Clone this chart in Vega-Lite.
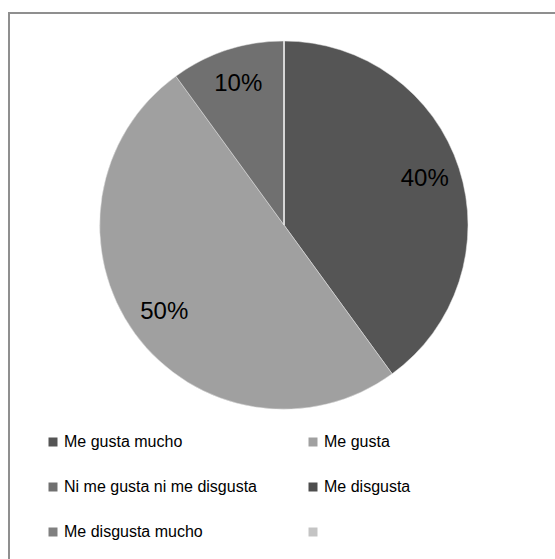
{
  "$schema": "https://vega.github.io/schema/vega-lite/v6.json",
  "autosize": "none",
  "padding": {"left": 9, "top": 13, "right": 0, "bottom": 0},
  "width": 560,
  "height": 560,
  "background": "#ffffff",
  "config": {
    "view": {"stroke": "#8f8f8f", "strokeWidth": 2},
    "font": "Liberation Sans"
  },
  "data": {
    "values": [
      {"respuesta": "Me gusta mucho", "valor": 0.4, "orden": 1},
      {"respuesta": "Me gusta", "valor": 0.5, "orden": 2},
      {"respuesta": "Ni me gusta ni me disgusta", "valor": 0.1, "orden": 3},
      {"respuesta": "Me disgusta", "valor": 0, "orden": 4},
      {"respuesta": "Me disgusta mucho", "valor": 0, "orden": 5},
      {"respuesta": " ", "valor": 0, "orden": 6}
    ]
  },
  "encoding": {
    "theta": {"field": "valor", "type": "quantitative", "stack": true},
    "order": {"field": "orden", "type": "quantitative"},
    "color": {
      "field": "respuesta",
      "type": "nominal",
      "scale": {
        "domain": ["Me gusta mucho", "Ni me gusta ni me disgusta", "Me disgusta mucho", "Me gusta", "Me disgusta", " "],
        "range": ["#555555", "#707070", "#808080", "#a0a0a0", "#4d4d4d", "#c4c4c4"]
      },
      "legend": {
        "title": null,
        "orient": "none",
        "legendX": 36,
        "legendY": 421,
        "columns": 2,
        "symbolType": "square",
        "symbolSize": 81,
        "symbolStrokeWidth": 0,
        "labelFontSize": 16,
        "labelFont": "Liberation Sans",
        "labelColor": "#000000",
        "labelOffset": 3,
        "labelLimit": 400,
        "rowPadding": 29,
        "columnPadding": 48
      }
    }
  },
  "layer": [
    {
      "mark": {"type": "arc", "outerRadius": 184, "stroke": "#e6e6e6", "strokeWidth": 0.5},
      "encoding": {
        "x": {"value": 275},
        "y": {"value": 212}
      }
    },
    {
      "transform": [{"filter": "datum.valor > 0"}],
      "mark": {"type": "text", "radius": 148, "fontSize": 24, "font": "Liberation Sans"},
      "encoding": {
        "x": {"value": 275},
        "y": {"value": 212},
        "text": {"field": "valor", "type": "quantitative", "format": ".0%"},
        "color": {"value": "#000000"}
      }
    }
  ]
}
